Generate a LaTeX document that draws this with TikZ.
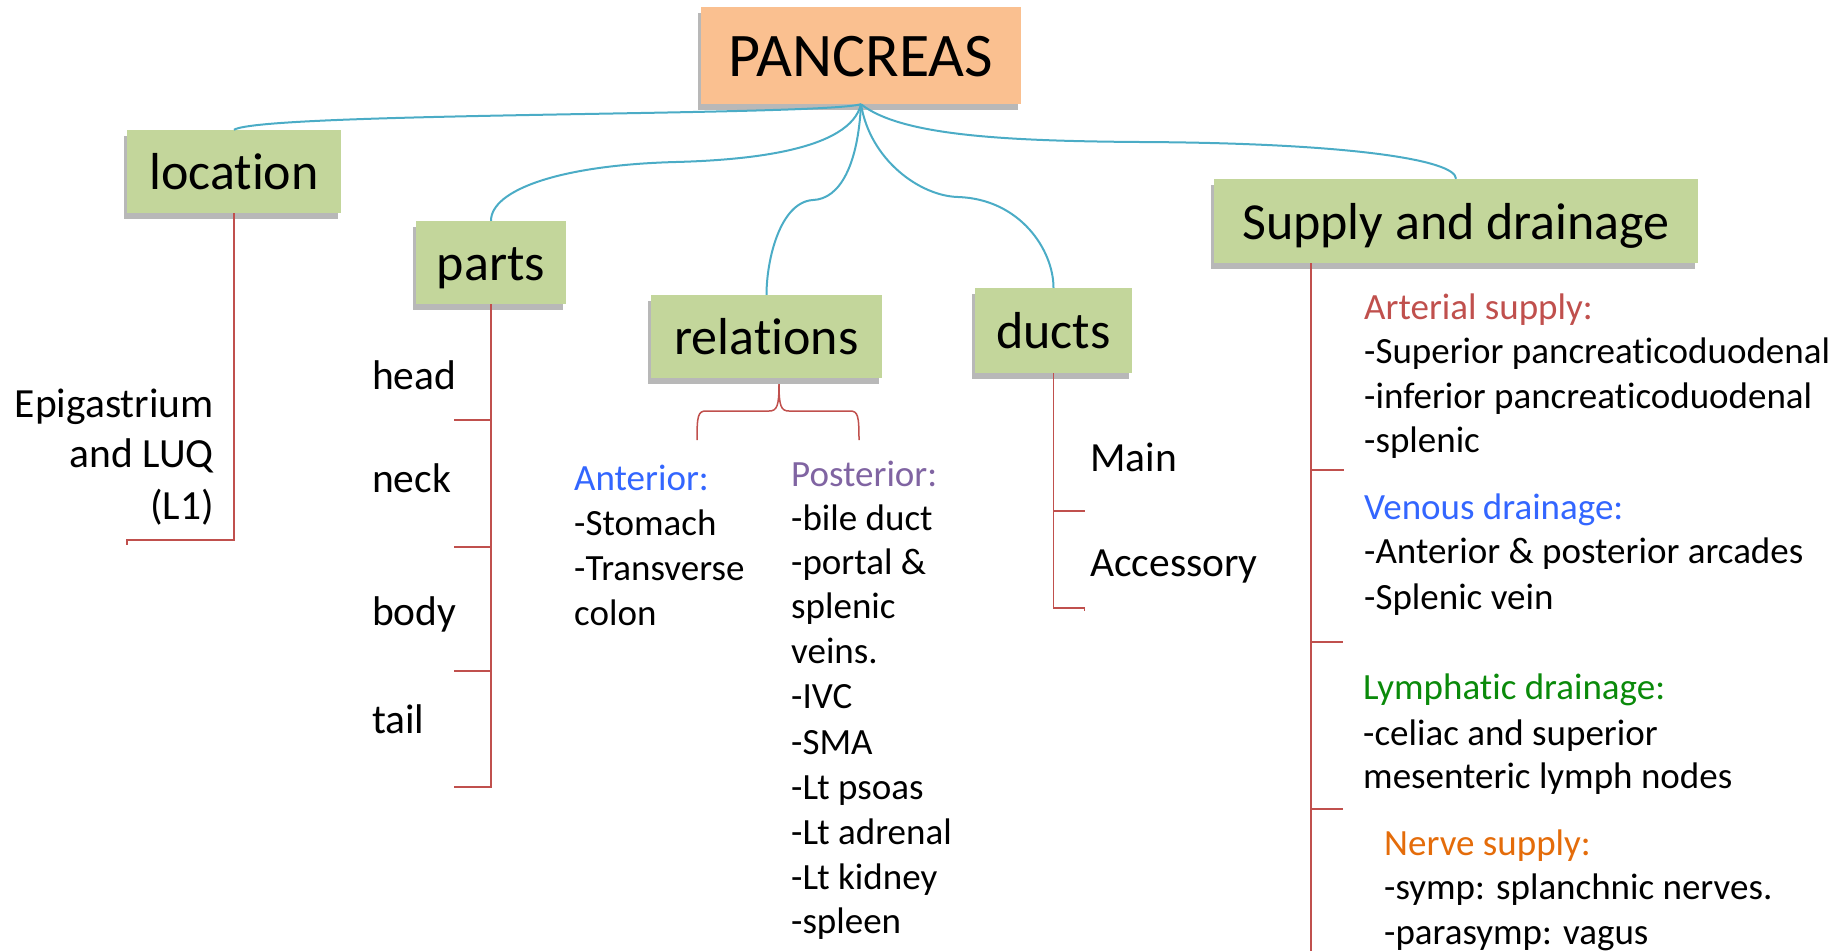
\documentclass[tikz,border=0pt]{standalone}
\usepackage{fontspec}
\setmainfont{Carlito}[Ligatures=CommonOff]
\usetikzlibrary{shadows}
\definecolor{conn}{HTML}{4BACC6}
\definecolor{redl}{HTML}{C0504D}
\definecolor{boxgreen}{HTML}{C3D69B}
\definecolor{boxorange}{HTML}{FAC090}
\definecolor{antblue}{HTML}{3366FF}
\definecolor{postpurple}{HTML}{8064A2}
\definecolor{lymgreen}{HTML}{0A8A0A}
\definecolor{nerveorange}{HTML}{E46C0A}
\begin{document}
\begin{tikzpicture}[x=1pt,y=-1pt,
  shad/.style={drop shadow={shadow xshift=-3pt,shadow yshift=-6pt,opacity=0.28,fill=black}},
  box/.style={fill=boxgreen,inner sep=0pt,shad,font=\fontsize{52}{62}\selectfont,text height=49pt,text depth=13pt},
  blueline/.style={draw=conn,line width=2pt},
  redline/.style={draw=redl,line width=1.5pt},
  big/.style={inner sep=0pt,font=\fontsize{41.5}{50}\selectfont,yshift=-2pt},
  small/.style={inner sep=0pt,font=\fontsize{37}{44.5}\selectfont,anchor=base west,yshift=-2.5pt}
]
\useasboundingbox (0,0) rectangle (1839,951);

% boxes
\node[fill=boxorange,inner sep=0pt,shad,minimum width=320pt,minimum height=97pt,
      font=\fontsize{62}{74}\selectfont,text height=55pt,text depth=14pt] (P) at (861,55.5) {PANCREAS};
\node[box,minimum width=214pt,minimum height=83pt] (loc) at (234,171.5) {location};
\node[box,minimum width=150pt,minimum height=83pt] (parts) at (491,262.5) {parts};
\node[box,minimum width=231pt,minimum height=83pt] (rel) at (766.5,336.5) {relations};
\node[box,minimum width=157pt,minimum height=85pt] (ducts) at (1053.5,330.5) {ducts};
\node[box,minimum width=484pt,minimum height=84pt] (sup) at (1456,221) {Supply and drainage};

% blue connectors
\draw[blueline] (P.south) .. controls (820,116) and (262,112) .. (loc.north);
\draw[blueline] (P.south) .. controls (850,150) and (750,160) .. (676,162)
                          .. controls (560,165) and (491,190) .. (parts.north);
\draw[blueline] (P.south) .. controls (858,165) and (840,199) .. (813,200)
                          .. controls (780,202) and (766.5,260) .. (rel.north);
\draw[blueline] (P.south) .. controls (870,160) and (920,196) .. (958,197)
                          .. controls (1020,199) and (1053.5,250) .. (ducts.north);
\draw[blueline] (P.south) .. controls (900,135) and (1000,141) .. (1140,142)
                          .. controls (1350,143) and (1456,160) .. (sup.north);

% location branch
\draw[redline] (loc.south) -- ++(0,327) -- ++(-107,0) -- ++(0,5);
\node[big,anchor=base east] (e1) at (214,415) {Epigastrium};
\node[big,anchor=base east] (e2) at (214,465) {and LUQ};
\node[big,anchor=base east] (e3) at (214,517) {(L1)};

% parts branch
\draw[redline] (parts.south) -- ++(0,483) -- ++(-37,0);
\draw[redline] (parts.south) ++(0,116) -- ++(-37,0);
\draw[redline] (parts.south) ++(0,243) -- ++(-37,0);
\draw[redline] (parts.south) ++(0,367) -- ++(-37,0);
\node[big,anchor=base west] (head) at (372,387) {head};
\node[big,anchor=base west] (neck) at (372,490) {neck};
\node[big,anchor=base west] (body) at (372,623) {body};
\node[big,anchor=base west] (tail) at (372,731) {tail};

% relations branch
\coordinate (brtop) at (779,384);
\draw[redline] (brtop) .. controls (779,406) and (777,411) .. (769,411) -- (706,411)
   .. controls (698,411) and (697,416) .. (697,440);
\draw[redline] (brtop) .. controls (779,406) and (781,411) .. (789,411) -- (850,411)
   .. controls (858,411) and (859,416) .. (859,440);
\node[small,text=antblue] (ant) at (574,488) {Anterior:};
\node[small] (a1) at (574,533) {-Stomach};
\node[small] (a2) at (574,578) {-Transverse};
\node[small] (a3) at (574,623) {colon};
\node[small,text=postpurple] (post) at (791,484) {Posterior:};
\foreach \t/\y [count=\i] in {-bile duct/528,-portal \&/572,splenic/616,veins./661,-IVC/706,-SMA/752,-Lt psoas/797,-Lt adrenal/842,-Lt kidney/887,-spleen/931}
  \node[small] (p\i) at (791,\y) {\t};

% ducts branch
\draw[redline] (ducts.south) -- ++(0,235) -- ++(31,0) -- ++(0,3);
\draw[redline] (ducts.south) ++(0,138) -- ++(31,0);
\node[big,anchor=base west] (main) at (1090,469) {Main};
\node[big,anchor=base west] (acc) at (1090,574) {Accessory};

% supply branch
\coordinate (sl) at (1311,263);
\draw[redline] (sl) -- (1311,951);
\draw[redline] (sl) ++(0,207) -- ++(33,0);
\draw[redline] (sl) ++(0,379) -- ++(32,0);
\draw[redline] (sl) ++(0,546) -- ++(32,0);
\node[small,text=redl] (art) at (1364,317) {Arterial supply:};
\node[small] (s1) at (1364,361) {-Superior pancreaticoduodenal};
\node[small] (s2) at (1364,406) {-inferior pancreaticoduodenal};
\node[small] (s3) at (1364,450) {-splenic};
\node[small,text=antblue] (ven) at (1364,517) {Venous drainage:};
\node[small] (v1) at (1364,561) {-Anterior \& posterior arcades};
\node[small] (v2) at (1364,607) {-Splenic vein};
\node[small,text=lymgreen] (lym) at (1363,697) {Lymphatic drainage:};
\node[small] (l1) at (1363,743) {-celiac and superior};
\node[small] (l2) at (1363,786) {mesenteric lymph nodes};
\node[small,text=nerveorange] (ner) at (1384,853) {Nerve supply:};
\node[small] (n1) at (1384,897) {-symp: splanchnic nerves.};
\node[small] (n2) at (1384,942) {-parasymp: vagus};
\end{tikzpicture}
\end{document}
